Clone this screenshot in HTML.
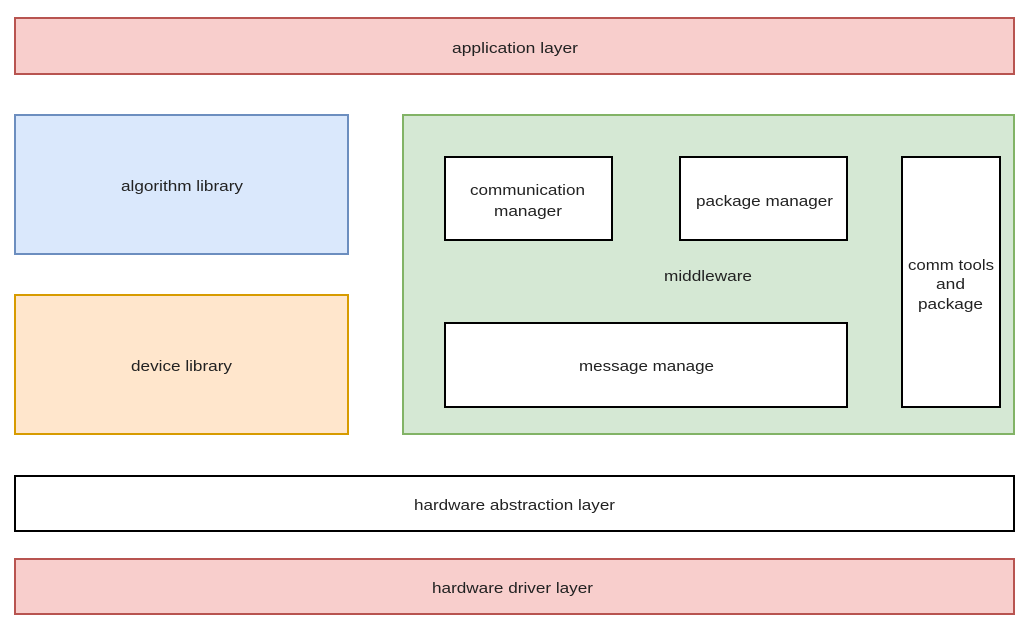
<!DOCTYPE html>
<html><head><meta charset="utf-8"><style>body{margin:0;background:#fff}svg{display:block}text{font-family:"Liberation Sans",Arial,sans-serif;font-size:15px;fill:#222}</style></head><body>
<svg width="1034" height="635" xmlns="http://www.w3.org/2000/svg">
<g stroke-width="2">
<rect x="15" y="18" width="999" height="56" fill="#f8cecc" stroke="#b85450"/>
<rect x="15" y="115" width="333" height="139" fill="#dae8fc" stroke="#6c8ebf"/>
<rect x="15" y="295" width="333" height="139" fill="#ffe6cc" stroke="#d79b00"/>
<rect x="403" y="115" width="611" height="319" fill="#d5e8d4" stroke="#82b366"/>
<rect x="445" y="157" width="167" height="83" fill="#fff" stroke="#000"/>
<rect x="680" y="157" width="167" height="83" fill="#fff" stroke="#000"/>
<rect x="902" y="157" width="98" height="250" fill="#fff" stroke="#000"/>
<rect x="445" y="323" width="402" height="84" fill="#fff" stroke="#000"/>
<rect x="15" y="476" width="999" height="55" fill="#fff" stroke="#000"/>
<rect x="15" y="559" width="999" height="55" fill="#f8cecc" stroke="#b85450"/>
</g>
<g lengthAdjust="spacingAndGlyphs">
<text x="452" y="53" textLength="126" lengthAdjust="spacingAndGlyphs">application layer</text>
<text x="121" y="191" textLength="122" lengthAdjust="spacingAndGlyphs">algorithm library</text>
<text x="131" y="371" textLength="101" lengthAdjust="spacingAndGlyphs">device library</text>
<text x="664" y="281" textLength="88" lengthAdjust="spacingAndGlyphs">middleware</text>
<text x="470" y="195" textLength="115" lengthAdjust="spacingAndGlyphs">communication</text>
<text x="494" y="216" textLength="68" lengthAdjust="spacingAndGlyphs">manager</text>
<text x="696" y="206" textLength="137" lengthAdjust="spacingAndGlyphs">package manager</text>
<text x="908" y="270" textLength="86" lengthAdjust="spacingAndGlyphs">comm tools</text>
<text x="936" y="289" textLength="29" lengthAdjust="spacingAndGlyphs">and</text>
<text x="918" y="309" textLength="65" lengthAdjust="spacingAndGlyphs">package</text>
<text x="579" y="371" textLength="135" lengthAdjust="spacingAndGlyphs">message manage</text>
<text x="414" y="510" textLength="201" lengthAdjust="spacingAndGlyphs">hardware abstraction layer</text>
<text x="432" y="593" textLength="161" lengthAdjust="spacingAndGlyphs">hardware driver layer</text>
</g>
</svg>
</body></html>
